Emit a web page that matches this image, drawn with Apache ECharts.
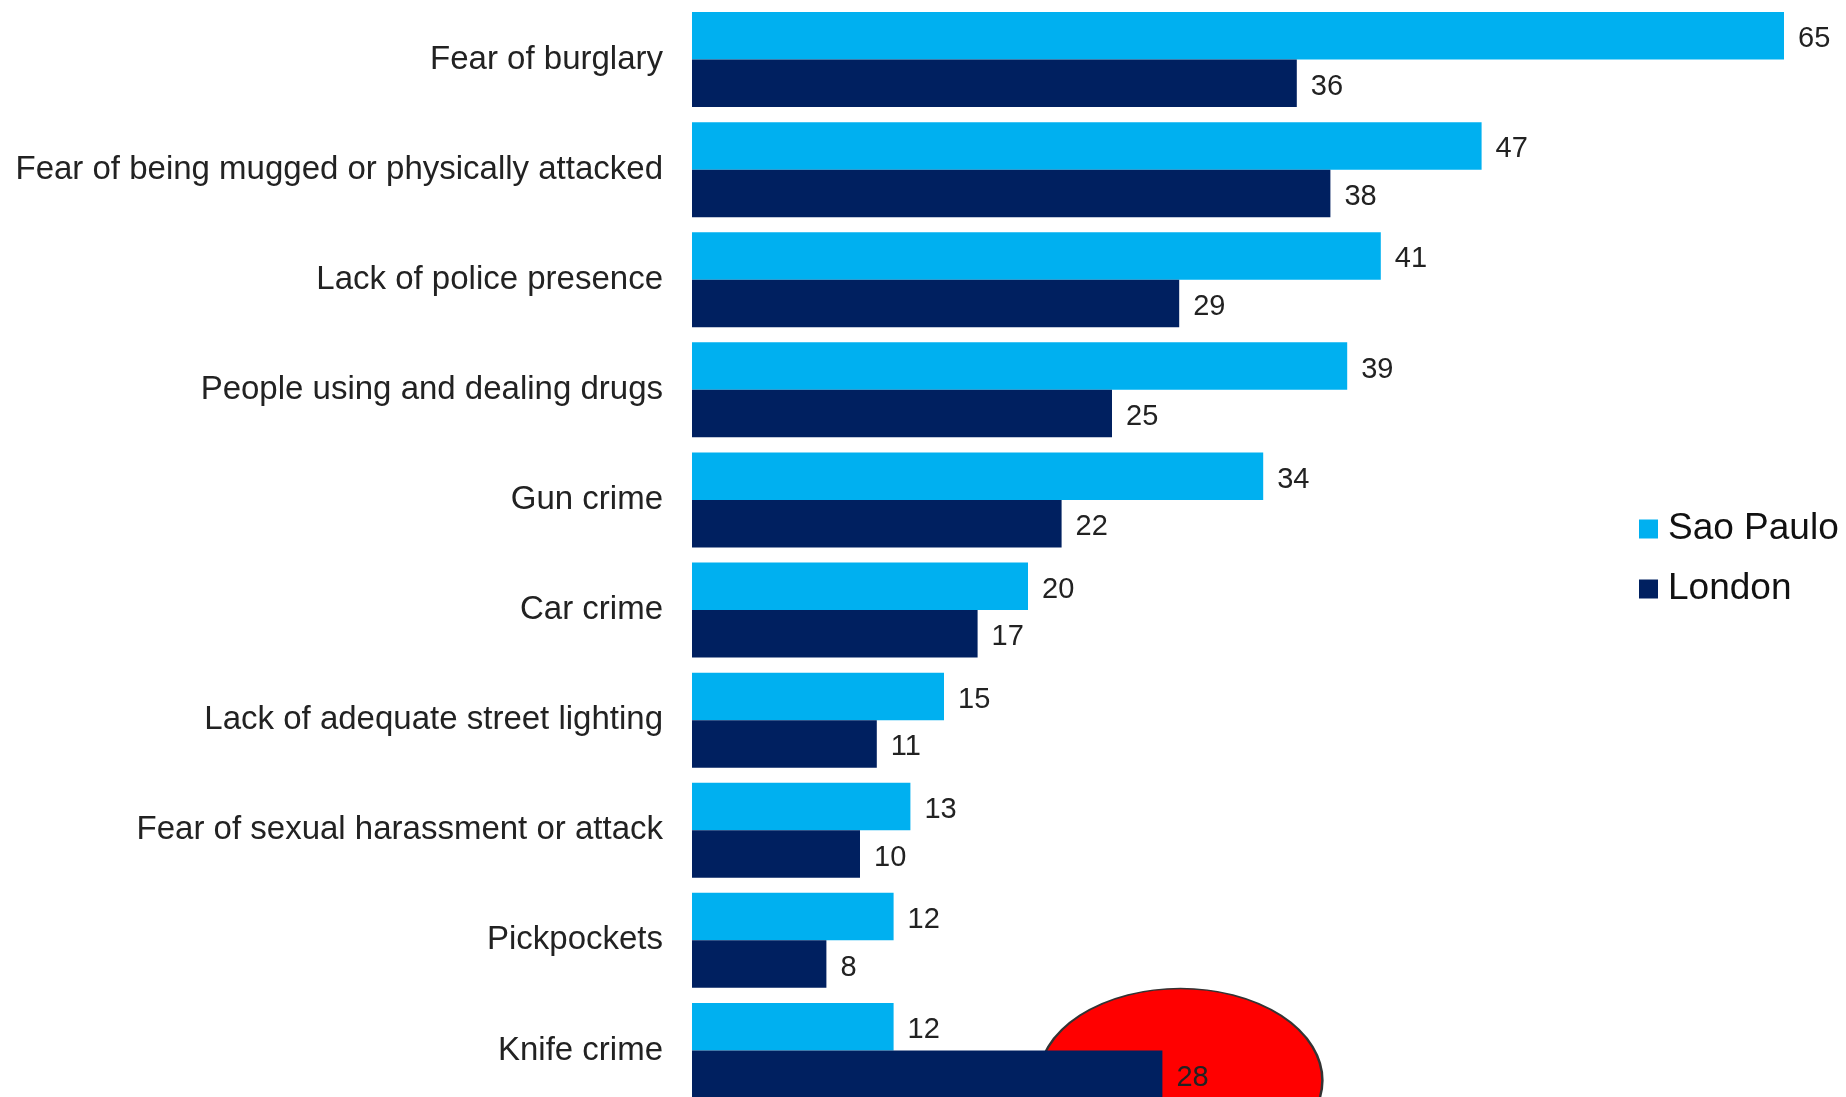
<!DOCTYPE html>
<html>
<head>
<meta charset="utf-8">
<title>Concerns about safety: Sao Paulo vs London</title>
<script src="https://cdn.jsdelivr.net/npm/echarts@6/dist/echarts.min.js"></script>
<style>
  html, body { margin: 0; padding: 0; background: #ffffff; overflow: hidden; }
  /* the plot runs past the right and bottom edges of the page */
  #chart { width: 1900px; height: 1120px; }
</style>
</head>
<body>
<div id="chart"></div>
<script>
// Survey concerns, percent of respondents
const categories = [
  'Fear of burglary',
  'Fear of being mugged or physically attacked',
  'Lack of police presence',
  'People using and dealing drugs',
  'Gun crime',
  'Car crime',
  'Lack of adequate street lighting',
  'Fear of sexual harassment or attack',
  'Pickpockets',
  'Knife crime'
];
const saoPaulo = [65, 47, 41, 39, 34, 20, 15, 13, 12, 12];
const london   = [36, 38, 29, 25, 22, 17, 11, 10, 8, 28];
const seriesNames = ['Sao Paulo', 'London'];

// The London knife-crime figure is circled
const highlightCategory = 'Knife crime';
const highlightValue = london[categories.indexOf(highlightCategory)];

const FONT = '"Liberation Sans", Arial, sans-serif';
const TEXT = '#222222';

const chart = echarts.init(document.getElementById('chart'), null, { renderer: 'canvas' });

const valueLabel = {
  show: true,
  position: 'right',
  distance: 14,
  offset: [0, 3.5],
  fontFamily: FONT,
  fontSize: 29,
  color: TEXT
};

chart.setOption({
  backgroundColor: '#ffffff',
  animation: false,
  grid: {
    left: 692,
    top: 4.5,
    width: 1176,
    height: 1101,
    containLabel: false
  },
  legend: {
    data: seriesNames,
    orient: 'vertical',
    left: 1634,
    top: 505.5,
    icon: 'rect',
    itemWidth: 19,
    itemHeight: 19,
    itemGap: 23,
    selectedMode: false,
    textStyle: {
      fontFamily: FONT,
      fontSize: 37,
      lineHeight: 37,
      color: '#111111',
      padding: [0, 0, 0, 5]
    }
  },
  xAxis: {
    type: 'value',
    min: 0,
    max: 70,
    show: false
  },
  yAxis: {
    type: 'category',
    data: categories,
    inverse: true,
    axisLine: { show: false },
    axisTick: { show: false },
    splitLine: { show: false },
    axisLabel: {
      fontFamily: FONT,
      fontSize: 33,
      color: TEXT,
      margin: 29,
      padding: [6, 0, 0, 0]
    }
  },
  series: [
    {
      name: 'highlight',
      type: 'scatter',
      silent: true,
      z: 1,
      symbol: 'circle',
      symbolSize: [284, 184],
      symbolOffset: [18, 30],
      itemStyle: { color: '#ff0000', borderColor: '#333333', borderWidth: 2, opacity: 1 },
      data: [[highlightValue, highlightCategory]]
    },
    {
      name: seriesNames[0],
      type: 'bar',
      z: 2,
      barGap: 0,
      barCategoryGap: '13.7%',
      itemStyle: { color: '#00b0f0' },
      label: valueLabel,
      data: saoPaulo
    },
    {
      name: seriesNames[1],
      type: 'bar',
      z: 2,
      barGap: 0,
      barCategoryGap: '13.7%',
      itemStyle: { color: '#002060' },
      label: valueLabel,
      data: london
    }
  ]
});
</script>
</body>
</html>
